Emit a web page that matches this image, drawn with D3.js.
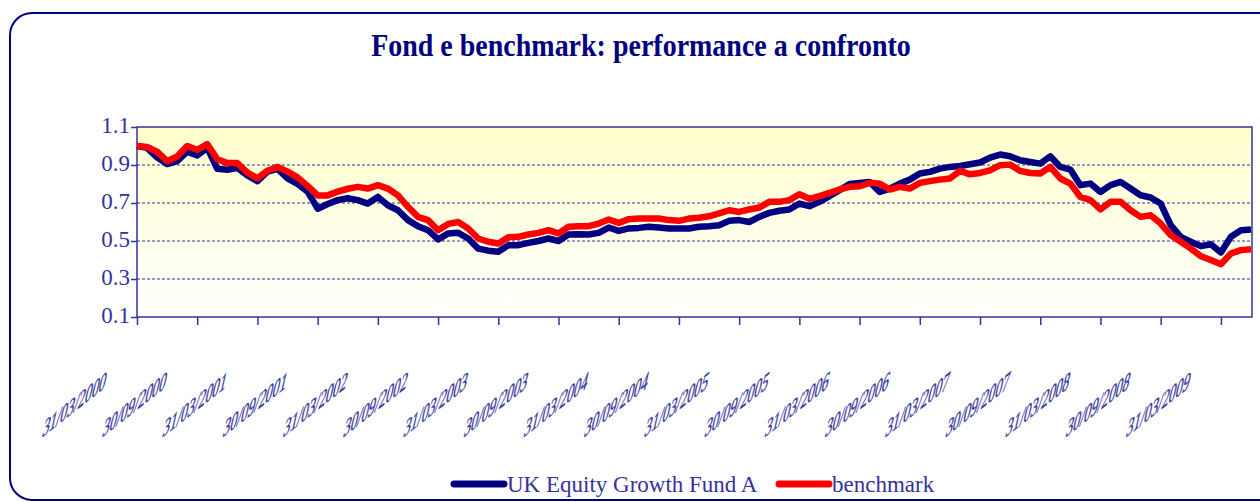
<!DOCTYPE html>
<html>
<head>
<meta charset="utf-8">
<script src="https://cdn.jsdelivr.net/npm/d3@7"></script>
<style>
  body{margin:0;background:#fff;}
  svg{display:block;font-family:"Liberation Serif","Times New Roman",serif;}
</style>
</head>
<body>
<div id="chart"></div>
<script>
// tick labels, every 6 months
const dateLabels = ["31/03/2000","30/09/2000","31/03/2001","30/09/2001","31/03/2002","30/09/2002",
  "31/03/2003","30/09/2003","31/03/2004","30/09/2004","31/03/2005","30/09/2005","31/03/2006",
  "30/09/2006","31/03/2007","30/09/2007","31/03/2008","30/09/2008","31/03/2009"];

const yTicks = [0.1,0.3,0.5,0.7,0.9,1.1];

// monthly values
const fund = [1.0,0.99,0.94,0.905,0.92,0.97,0.95,0.99,0.88,0.875,
  0.885,0.845,0.815,0.865,0.88,0.83,0.80,0.76,0.67,0.695,
  0.715,0.725,0.715,0.697,0.732,0.688,0.662,0.61,0.578,0.557,
  0.508,0.54,0.543,0.513,0.46,0.449,0.443,0.478,0.478,0.49,
  0.50,0.513,0.50,0.534,0.536,0.534,0.543,0.571,0.553,0.566,
  0.569,0.575,0.571,0.566,0.566,0.566,0.575,0.578,0.583,0.606,
  0.61,0.6,0.627,0.648,0.659,0.666,0.697,0.683,0.706,0.736,
  0.767,0.8,0.806,0.811,0.758,0.776,0.802,0.823,0.855,0.864,
  0.881,0.89,0.895,0.904,0.913,0.939,0.955,0.946,0.925,0.916,
  0.907,0.946,0.89,0.876,0.794,0.802,0.758,0.794,0.811,0.776,
  0.741,0.729,0.697,0.583,0.522,0.496,0.473,0.483,0.44,0.522,
  0.557,0.561];

const benchmark = [1.0,0.995,0.97,0.92,0.945,1.0,0.98,1.01,0.93,0.91,
  0.91,0.86,0.83,0.87,0.89,0.865,0.835,0.79,0.74,0.74,
  0.76,0.775,0.785,0.776,0.794,0.776,0.74,0.68,0.627,0.61,
  0.557,0.59,0.6,0.566,0.513,0.496,0.487,0.52,0.522,0.534,
  0.543,0.557,0.54,0.575,0.578,0.578,0.592,0.613,0.595,0.615,
  0.618,0.618,0.618,0.61,0.606,0.618,0.622,0.63,0.645,0.662,
  0.653,0.666,0.676,0.706,0.706,0.715,0.746,0.722,0.736,0.753,
  0.771,0.785,0.788,0.806,0.802,0.771,0.785,0.776,0.806,0.815,
  0.823,0.829,0.869,0.851,0.858,0.872,0.899,0.902,0.869,0.858,
  0.855,0.89,0.829,0.802,0.732,0.715,0.666,0.706,0.706,0.662,
  0.627,0.636,0.592,0.531,0.496,0.46,0.42,0.40,0.378,0.434,
  0.452,0.456];

const seriesNames = ["UK Equity Growth Fund A","benchmark"];
const seriesColors = ["#000080","#ff0000"];

const opt={width:1260,height:502,left:137,right:1252,top:127,bottom:317}
const axisColor="#333399";

const svg=d3.select("#chart").append("svg")
  .attr("width",opt.width)
  .attr("height",opt.height);

const defs=svg.append("defs");
const grad=defs.append("linearGradient").attr("id","bg")
  .attr("x1",0).attr("y1",0).attr("x2",0).attr("y2",1);
grad.append("stop").attr("offset","0%").attr("stop-color","#ffffcc");
grad.append("stop").attr("offset","100%").attr("stop-color","#ffffff");

// outer frame
svg.append("rect")
  .attr("x",10).attr("y",13)
  .attr("width",1290).attr("height",487)
  .attr("rx",22)
  .attr("fill","#fff")
  .attr("stroke","#000080")
  .attr("stroke-width",2);

svg.append("text")
  .attr("transform","translate(641,56) scale(1,1.15)")
  .attr("text-anchor","middle")
  .attr("font-size",28)
  .attr("font-weight","bold")
  .attr("fill","#000080")
  .text("Fond e benchmark: performance a confronto");

const xScale=d3.scaleLinear()
  .domain([0,fund.length-1])
  .range([opt.left,opt.right-1]);

const yScale=d3.scaleLinear()
  .domain([0.1,1.1])
  .range([opt.bottom,opt.top]);

// plot background
svg.append("rect")
  .attr("x",opt.left).attr("y",opt.top)
  .attr("width",opt.right-opt.left).attr("height",opt.bottom-opt.top)
  .attr("fill","url(#bg)");

svg.append("g")
  .selectAll("line")
  .data(yTicks.filter(d=>d>0.1 && d<1.1))
  .enter()
  .append("line")
  .attr("x1",opt.left).attr("x2",opt.right)
  .attr("y1",d=>yScale(d)).attr("y2",d=>yScale(d))
  .attr("stroke",axisColor)
  .attr("stroke-width",1)
  .attr("stroke-dasharray","3,2");

svg.append("rect")
  .attr("x",opt.left).attr("y",opt.top)
  .attr("width",opt.right-opt.left).attr("height",opt.bottom-opt.top)
  .attr("fill","none")
  .attr("stroke",axisColor)
  .attr("stroke-width",1.5);

// y axis
const yAxis=svg.append("g")
  .attr("transform","translate("+opt.left+",0)")
  .call(d3.axisLeft(yScale).tickValues(yTicks).tickSize(6).tickPadding(1).tickFormat(d3.format(".1f")));
yAxis.select(".domain").remove();
yAxis.selectAll("line").attr("stroke",axisColor).attr("stroke-width",1.5);
yAxis.selectAll("text")
  .attr("fill",axisColor)
  .attr("font-size",23)
  .attr("font-family","Liberation Serif, serif")
  .attr("dy","0.26em");

// x axis, slanted labels with near-upright glyphs like the original
const xTickIdx=dateLabels.map((d,i)=>i*6);
const xAxis=svg.append("g")
  .attr("transform","translate(0,"+opt.bottom+")")
  .call(d3.axisBottom(xScale).tickValues(xTickIdx).tickSize(8).tickFormat((d,i)=>dateLabels[i]));
xAxis.select(".domain").remove();
xAxis.selectAll("line").attr("stroke",axisColor).attr("stroke-width",1.5);
xAxis.selectAll("text")
  .attr("fill",axisColor)
  .attr("stroke",axisColor)
  .attr("stroke-width",0.4)
  .attr("font-size",21)
  .attr("font-family","Liberation Serif, serif")
  .attr("text-anchor","end")
  .attr("x",0).attr("y",0).attr("dy",0)
  .attr("transform","matrix(0.66,-0.52,-0.28,1.25,-33,71)");

// lines
const line=d3.line()
  .x((d,i)=>xScale(i))
  .y(d=>yScale(d));

[fund,benchmark].forEach((s,k)=>{
  svg.append("path")
    .datum(s)
    .attr("d",line)
    .attr("fill","none")
    .attr("stroke",seriesColors[k])
    .attr("stroke-width",6.5)
    .attr("stroke-linejoin","round");
});

// legend
const legendPos=[{x1:454,x2:504,tx:507},{x1:779,x2:829,tx:832}];
legendPos.forEach((p,k)=>{
  svg.append("line")
    .attr("x1",p.x1).attr("x2",p.x2)
    .attr("y1",484).attr("y2",484)
    .attr("stroke",seriesColors[k])
    .attr("stroke-width",7)
    .attr("stroke-linecap","round");
  svg.append("text")
    .attr("x",p.tx).attr("y",492)
    .attr("font-size",23)
    .attr("fill",axisColor)
    .text(seriesNames[k]);
});
</script>
</body>
</html>
